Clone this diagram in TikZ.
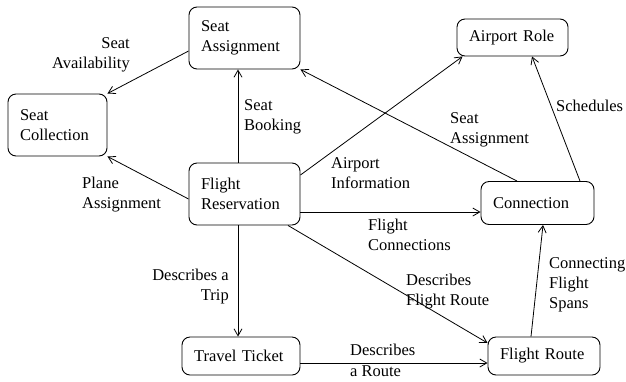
\documentclass[tikz,border=0pt]{standalone}
\usepackage{fontspec}
\setmainfont{Liberation Serif}
\usetikzlibrary{arrows.meta}
\begin{document}
\begin{tikzpicture}[x=1bp,y=-1bp,
  every node/.style={font=\fontsize{16.5bp}{20bp}\selectfont},
  box/.style={draw, rounded corners=8bp, line width=0.9bp, align=left,
    inner xsep=12bp, inner ysep=0pt},
  arr/.style={line width=0.8bp, -{Straight Barb[length=7bp,width=8bp]}},
  lab/.style={inner sep=0pt}]
\useasboundingbox (0,0) rectangle (626,381);

% entity boxes
\node[box, text width=87bp, minimum height=62bp] (sa) at (244.5,38) {Seat\\Assignment};
\node[box, text width=75bp, minimum height=62bp] (sc) at (57.5,125) {Seat\\Collection};
\node[box, text width=87bp, minimum height=62bp] (fr) at (244.5,194) {Flight\\Reservation};
\node[box, text width=87bp, minimum height=37bp] (ar) at (512.5,37.5) {Airport Role};
\node[box, text width=89bp, minimum height=43bp] (cn) at (537.5,203) {Connection};
\node[box, text width=94bp, minimum height=38bp] (tt) at (241,356) {Travel Ticket};
\node[box, text width=88bp, minimum height=38bp] (fro) at (544,356) {Flight Route};

% relationships
\draw[arr] (sa.west |- 0,51) -- (sc.north east);
\draw[arr] (fr.west |- 0,199) -- (sc.south east);
\draw[arr] (fr.north -| 238,0) -- (sa.south -| 238,0);
\draw[arr] (fr.east |- 0,175) -- ([xshift=6bp]ar.south west);
\draw[arr] (cn.north -| 517,0) -- (sa.south east);
\draw[arr] (cn.north -| 580,0) -- (ar.south -| 532,0);
\draw[arr] (fr.east |- 0,212) -- (cn.west |- 0,212);
\draw[arr] (fr.south -| 288,0) -- (fro.west |- 0,343);
\draw[arr] (fr.south -| 238,0) -- (tt.north -| 238,0);
\draw[arr] (tt.east |- 0,363) -- (fro.west |- 0,363);
\draw[arr] (fro.north -| 531,0) -- (cn.south -| 543,0);

% relationship labels
\node[lab, anchor=east, align=right] (l1) at (130,55) {Seat\\Availability};
\node[lab, anchor=west, align=left] (l2) at (82,195) {Plane\\Assignment};
\node[lab, anchor=west, align=left] (l3) at (244,117) {Seat\\Booking};
\node[lab, anchor=west, align=left] (l4) at (331,173) {Airport\\Information};
\node[lab, anchor=west, align=left] (l5) at (450,130) {Seat\\Assignment};
\node[lab, anchor=west, align=left] (l6) at (556,106) {Schedules};
\node[lab, anchor=west, align=left] (l7) at (368,235) {Flight\\Connections};
\node[lab, anchor=west, align=left] (l8) at (406,292) {Describes\\Flight Route};
\node[lab, anchor=west, align=left] (l9) at (549,285) {Connecting\\Flight\\Spans};
\node[lab, anchor=east, align=right] (l10) at (229,287) {Describes a\\Trip};
\node[lab, anchor=west] (l11) at (350,350) {Describes};
\node[lab, anchor=west] (l12) at (350,371) {a Route};
\end{tikzpicture}
\end{document}
